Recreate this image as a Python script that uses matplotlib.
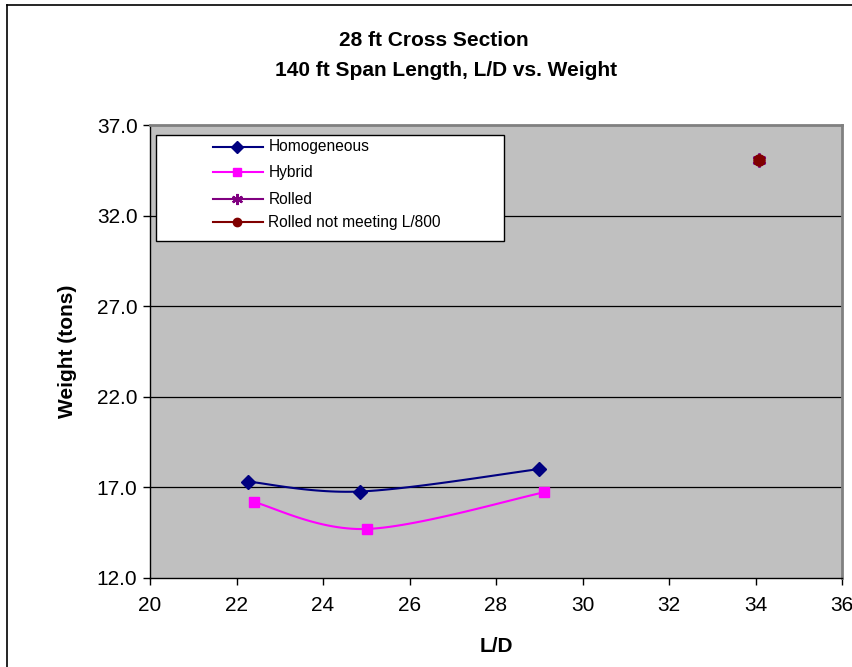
import matplotlib.pyplot as plt
import numpy as np
from matplotlib.lines import Line2D
from matplotlib.patches import Rectangle

plt.rcParams["font.family"] = ["Liberation Sans", "DejaVu Sans"]

# L/D vs. weight (tons) for each girder type
homog_ld = [22.26, 24.86, 29.0]
homog_wt = [17.31, 16.76, 18.0]
hybrid_ld = [22.41, 25.01, 29.12]
hybrid_wt = [16.17, 14.69, 16.72]
rolled_ld = [34.09]
rolled_wt = [35.09]
rolled_fail_ld = [34.09]
rolled_fail_wt = [35.09]

series_names = ["Homogeneous", "Hybrid", "Rolled", "Rolled not meeting L/800"]
y_ticks = [12.0, 17.0, 22.0, 27.0, 32.0, 37.0]
x_ticks = [20, 22, 24, 26, 28, 30, 32, 34, 36]

NAVY, MAGENTA, PURPLE, MAROON = "#000080", "#FF00FF", "#800080", "#800000"
STAR = (6, 2, 0)


def smooth(xs, ys, n=30):
    """Cubic Bezier smoothing through the points (spreadsheet-style)."""
    p = np.column_stack([xs, ys]).astype(float)
    out = [p[0]]
    for i in range(len(p) - 1):
        p0 = p[i - 1] if i > 0 else p[i]
        p3 = p[i + 2] if i + 2 < len(p) else p[i + 1]
        c1 = p[i] + (p[i + 1] - p0) / 6
        c2 = p[i + 1] - (p3 - p[i]) / 6
        t = np.linspace(0, 1, n)[1:, None]
        seg = ((1 - t) ** 3) * p[i] + 3 * ((1 - t) ** 2) * t * c1 \
            + 3 * (1 - t) * t ** 2 * c2 + t ** 3 * p[i + 1]
        out.extend(seg)
    out = np.array(out)
    return out[:, 0], out[:, 1]


W, H = 852, 667
AX_L, AX_R, AX_T, AX_B = 150, 842, 125, 577.7

fig = plt.figure(figsize=(W / 100, H / 100), dpi=100)
ax = fig.add_axes([AX_L / W, 1 - AX_B / H, (AX_R - AX_L) / W, (AX_B - AX_T) / H])
ax.set_facecolor("#C0C0C0")

# chart frame (top and left edges only)
fig.add_artist(Line2D([7 / W, 7 / W], [0, 1 - 5 / H], transform=fig.transFigure,
                      color="black", linewidth=1.2))
fig.add_artist(Line2D([7 / W, 1], [1 - 5 / H, 1 - 5 / H], transform=fig.transFigure,
                      color="black", linewidth=1.2))

for yv in y_ticks[1:-1]:
    ax.axhline(yv, color="black", linewidth=0.9, zorder=1)

hx, hy = smooth(homog_ld, homog_wt)
ax.plot(hx, hy, color=NAVY, linewidth=1.5, zorder=3)
ax.plot(homog_ld, homog_wt, linestyle="none", marker="D", markersize=7,
        color=NAVY, zorder=4)
bx, by = smooth(hybrid_ld, hybrid_wt)
ax.plot(bx, by, color=MAGENTA, linewidth=1.5, zorder=3)
ax.plot(hybrid_ld, hybrid_wt, linestyle="none", marker="s", markersize=7.5,
        color=MAGENTA, zorder=4)
ax.plot(rolled_ld, rolled_wt, linestyle="none", marker=STAR,
        markersize=10, markeredgewidth=1.8, color=PURPLE, zorder=4)
ax.plot(rolled_fail_ld, rolled_fail_wt, linestyle="none", marker="o",
        markersize=8, color=MAROON, zorder=5)


# boxed legend with indented entries (positions in pixels)
def px(x, y):
    return (x - AX_L) / (AX_R - AX_L), (AX_B - y) / (AX_B - AX_T)


x0, y0 = px(155.7, 240.7)
x1, y1 = px(504, 135)
ax.add_patch(Rectangle((x0, y0), x1 - x0, y1 - y0, transform=ax.transAxes,
                       facecolor="white", edgecolor="black", linewidth=1.0,
                       zorder=6))
styles = [
    dict(color=NAVY, marker="D", markersize=6),
    dict(color=MAGENTA, marker="s", markersize=6),
    dict(color=PURPLE, marker=STAR, markersize=8, markeredgewidth=1.6),
    dict(color=MAROON, marker="o", markersize=6),
]
for row_y, name, st in zip([146.7, 172.3, 199.3, 222.3], series_names, styles):
    lx0, ly = px(213.3, row_y)
    lx1, _ = px(263.3, row_y)
    ax.add_line(Line2D([lx0, lx1], [ly, ly], transform=ax.transAxes,
                       linewidth=1.5, color=st["color"], zorder=7))
    mx, _ = px(237, row_y)
    ax.add_line(Line2D([mx], [ly], transform=ax.transAxes, linestyle="none",
                       zorder=8, **st))
    tx, _ = px(268.3, row_y)
    ax.text(tx, ly, name, transform=ax.transAxes, fontsize=11.2,
            va="center", ha="left", zorder=8)

ax.set_xlim(20, 36)
ax.set_ylim(12, 37)
ax.set_xticks(x_ticks)
ax.set_yticks(y_ticks)
ax.set_yticklabels([f"{v:.1f}" for v in y_ticks])
ax.tick_params(axis="both", labelsize=15, direction="out", length=5,
               width=1, color="black")
ax.tick_params(axis="x", pad=8)
ax.tick_params(axis="y", pad=4)

for side in ("top", "right"):
    ax.spines[side].set_color("#808080")
    ax.spines[side].set_linewidth(2)
for side in ("left", "bottom"):
    ax.spines[side].set_color("black")
    ax.spines[side].set_linewidth(1)

ax.set_xlabel("L/D", fontsize=15, fontweight="bold", labelpad=16)
ax.set_ylabel("Weight (tons)", fontsize=15, fontweight="bold", labelpad=14)

fig.text(434 / W, 1 - 41 / H, "28 ft Cross Section", ha="center",
         va="center", fontsize=15, fontweight="bold")
fig.text(446 / W, 1 - 71 / H, "140 ft Span Length, L/D vs. Weight",
         ha="center", va="center", fontsize=15, fontweight="bold")

fig.savefig("out.png", dpi=100)
plt.close(fig)
